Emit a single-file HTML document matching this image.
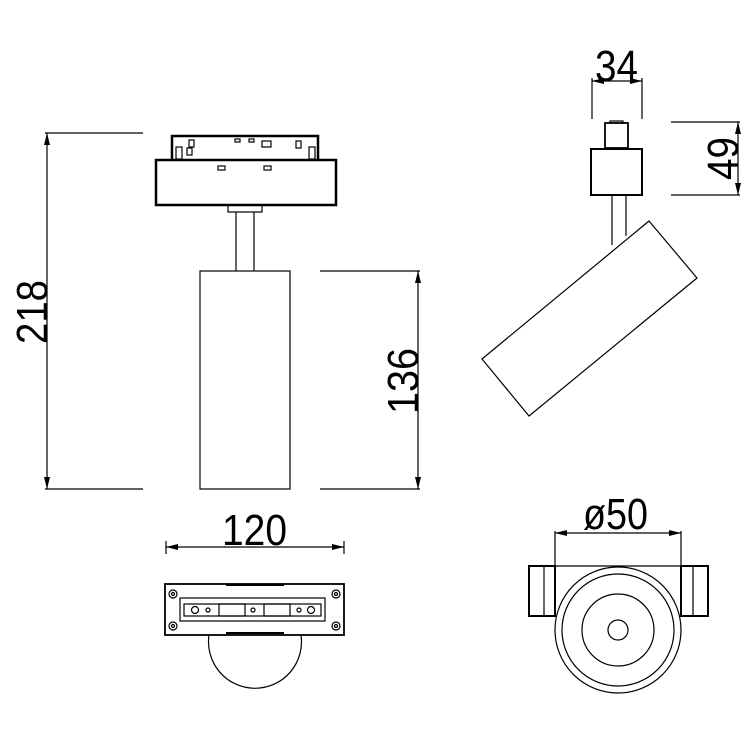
<!DOCTYPE html>
<html><head><style>html,body{margin:0;padding:0;background:#fff}svg{display:block}text{font-family:"Liberation Sans","DejaVu Sans",sans-serif;fill:#000}</style></head>
<body>
<svg width="754" height="754" viewBox="0 0 754 754" xmlns="http://www.w3.org/2000/svg">
<defs>
<marker id="a" viewBox="0 0 12 6" refX="12" refY="3" markerWidth="12" markerHeight="6" orient="auto-start-reverse" markerUnits="userSpaceOnUse"><path d="M0,0 L12,3 L0,6 z" fill="#000"/></marker>
</defs>
<g fill="none" stroke="#000" stroke-width="1.2">
<line x1="45" y1="133" x2="143" y2="133"/>
<line x1="45" y1="489" x2="143" y2="489"/>
<line x1="47" y1="133" x2="47" y2="489" marker-start="url(#a)" marker-end="url(#a)"/>
<path d="M172,160 V136 H318 V160" stroke-width="2.5"/>
<rect x="156" y="160" width="180" height="45" stroke-width="2.5"/>
<rect x="189" y="140" width="5" height="7"/><rect x="176" y="147" width="6" height="12"/><rect x="309" y="147" width="6" height="12"/><rect x="187" y="148" width="5" height="7"/><rect x="296" y="141" width="5" height="7"/>
<rect x="235" y="139" width="5" height="3"/><rect x="249" y="139" width="5" height="3"/><rect x="262" y="141" width="9" height="6"/>
<rect x="218" y="166" width="7" height="4"/><rect x="264" y="166" width="7" height="4"/>
<rect x="228" y="205" width="34" height="7"/>
<line x1="236" y1="212" x2="236" y2="271"/><line x1="254" y1="212" x2="254" y2="271"/>
<rect x="200" y="271" width="90" height="218"/>
<line x1="320" y1="271" x2="420" y2="271"/><line x1="320" y1="489" x2="420" y2="489"/>
<line x1="418" y1="271" x2="418" y2="489" marker-start="url(#a)" marker-end="url(#a)"/>
<line x1="166" y1="541" x2="166" y2="554"/><line x1="344" y1="541" x2="344" y2="554"/>
<line x1="166" y1="547" x2="344" y2="547" marker-start="url(#a)" marker-end="url(#a)"/>
<path d="M209,635 A46.5,46.5 0 1 0 301,635"/>
<rect x="165" y="584" width="179" height="51" stroke-width="1.8"/>
<line x1="226" y1="585" x2="284" y2="585" stroke-width="2"/>
<line x1="226" y1="633" x2="284" y2="633" stroke-width="2"/>
<rect x="180" y="598" width="145" height="23"/>
<rect x="184" y="604" width="137" height="12"/>
<circle cx="173" cy="594" r="4"/><circle cx="173" cy="594" r="1.5"/>
<circle cx="336" cy="594" r="4"/><circle cx="336" cy="594" r="1.5"/>
<circle cx="173" cy="626" r="4"/><circle cx="173" cy="626" r="1.5"/>
<circle cx="336" cy="626" r="4"/><circle cx="336" cy="626" r="1.5"/>
<circle cx="195" cy="610" r="3.5"/><circle cx="208" cy="610" r="2"/><circle cx="253" cy="610" r="2"/><circle cx="299" cy="610" r="2"/><circle cx="311" cy="610" r="3.5"/>
<rect x="219" y="604" width="26" height="12"/><rect x="264" y="604" width="26" height="12"/>
<line x1="592" y1="78" x2="592" y2="119"/><line x1="642" y1="78" x2="642" y2="119"/>
<line x1="592" y1="81" x2="642" y2="81" marker-start="url(#a)" marker-end="url(#a)"/>
<rect x="605" y="123" width="23" height="25" stroke-width="1.8"/>
<rect x="610" y="121" width="13" height="2"/>
<rect x="591" y="149" width="51" height="46" stroke-width="2"/>
<path d="M612,195 V245 M626,195 V236"/>
<line x1="671" y1="122" x2="740" y2="122"/><line x1="671" y1="195" x2="740" y2="195"/>
<line x1="738" y1="122" x2="738" y2="195" marker-start="url(#a)" marker-end="url(#a)"/>
<polygon points="649,221 697,278 529,416 482,359"/>
<line x1="555" y1="533" x2="681" y2="533" marker-start="url(#a)" marker-end="url(#a)"/>
<line x1="555" y1="531" x2="555" y2="566"/><line x1="681" y1="531" x2="681" y2="566"/>
<line x1="555" y1="566" x2="681" y2="566"/>
<rect x="529" y="566" width="26" height="50" stroke-width="2"/><line x1="544" y1="566" x2="544" y2="616"/>
<rect x="681" y="566" width="27" height="50" stroke-width="2"/><line x1="693" y1="566" x2="693" y2="616"/>
<circle cx="618" cy="630" r="63" fill="#fff"/>
<circle cx="618" cy="630" r="56"/>
<circle cx="618" cy="630" r="36"/>
<circle cx="618" cy="630" r="10"/>
</g>
<g font-size="44">
<text transform="translate(47 344) rotate(-90)" x="0" y="0" textLength="64" lengthAdjust="spacingAndGlyphs">218</text>
<text transform="translate(418 414) rotate(-90)" x="0" y="0" textLength="66" lengthAdjust="spacingAndGlyphs">136</text>
<text x="222" y="545" textLength="65" lengthAdjust="spacingAndGlyphs">120</text>
<text x="595" y="81" textLength="43" lengthAdjust="spacingAndGlyphs">34</text>
<text transform="translate(738 180) rotate(-90)" x="0" y="0" textLength="43" lengthAdjust="spacingAndGlyphs">49</text>
<text x="583" y="529" textLength="65" lengthAdjust="spacingAndGlyphs">ø50</text>
</g>
</svg>
</body></html>
